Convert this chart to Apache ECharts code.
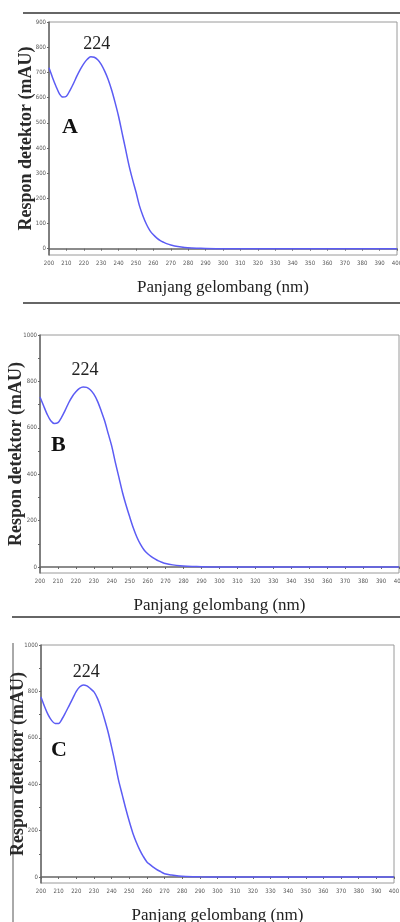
<!DOCTYPE html>
<html>
<head>
<meta charset="utf-8">
<script src="https://cdn.jsdelivr.net/npm/echarts@6/dist/echarts.min.js"></script>
<style>
  html, body { margin: 0; padding: 0; background: #fff; }
  #chart { width: 400px; height: 922px; }
</style>
</head>
<body>
<div id="chart"></div>
<script>
  // panjang gelombang (nm)
  const wavelengths = [200,202,204,206,208,210,212,214,216,218,220,222,224,226,228,230,232,234,236,238,
    240,242,244,246,248,250,252,254,256,258,260,262,264,266,268,270,274,278,282,286,290,300,320,340,360,380,400];
  // respon detektor (mAU) untuk A, B, C
  const respA = [718,680,645,615,602,605,628,655,685,712,735,752,762,760,750,732,705,672,630,580,
    525,460,395,330,275,225,170,130,97,72,55,42,32,25,19,15,9,5,3,2,1,0,0,0,0,0,0];
  const respB = [733,695,658,630,618,622,645,675,708,735,755,770,776,774,764,745,715,675,630,575,
    520,450,385,320,265,215,168,128,97,73,57,45,35,26,20,15,9,5,3,2,1,0,0,0,0,0,0];
  const respC = [776,735,700,675,662,662,682,710,740,770,800,820,828,824,812,798,770,730,680,625,
    560,490,415,355,295,240,190,150,116,88,65,52,40,30,22,14,8,4,2,1,0.5,0,0,0,0,0,0];
  const peakWl = 224;
  const panelNames = ['A', 'B', 'C'];
  const yTicksA = [0,100,200,300,400,500,600,700,800,900];
  const yTicksBC = [0,100,200,300,400,500,600,700,800,900,1000];
  const yLabelsBC = [0,200,400,600,800,1000];
  const xTicks = [200,210,220,230,240,250,260,270,280,290,300,310,320,330,340,350,360,370,380,390,400];

  const chart = echarts.init(document.getElementById('chart'));

  const grids = [
    { left: 49, top: 22, right: 3, bottom: 667 },
    { left: 40, top: 335, right: 1, bottom: 349 },
    { left: 41, top: 645, right: 6, bottom: 39 }
  ];
  const yMax = [900, 1000, 1000];
  const yMin = [-25, -26, -26];
  const yNameGap = [14, 15, 14];
  const labelOffset = [[6, 2], [2, -3], [3, 1]];
  const data = [respA, respB, respC];

  const tickFont = { fontFamily: 'DejaVu Sans Condensed, Liberation Sans Narrow, Liberation Sans, sans-serif', fontSize: 6, color: '#555' };

  const option = {
    animation: false,
    backgroundColor: '#fff',
    grid: grids.map(g => Object.assign({ show: true, borderColor: '#9a9a9a', borderWidth: 1, outerBoundsMode: 'none', containLabel: false }, g)),
    xAxis: grids.map((g, i) => ({
      type: 'value', gridIndex: i, min: 200, max: 400, interval: 10,
      name: 'Panjang gelombang (nm)', nameLocation: 'middle', nameGap: 24, nameMoveOverlap: false,
      nameTextStyle: { fontFamily: 'Liberation Serif', fontSize: 17, color: '#222' },
      axisLine: { lineStyle: { color: '#666', width: 1.5 } },
      axisTick: { show: true, length: 2, lineStyle: { color: '#666' } },
      axisLabel: Object.assign({ margin: 5, customValues: xTicks, formatter: v => String(v) }, tickFont),
      splitLine: { show: false }
    })),
    yAxis: grids.map((g, i) => ({
      type: 'value', gridIndex: i, min: yMin[i], max: yMax[i],
      name: 'Respon detektor (mAU)', nameLocation: 'middle', nameGap: yNameGap[i], nameMoveOverlap: false,
      nameTextStyle: { fontFamily: 'Liberation Serif', fontWeight: 'bold', fontSize: 18, color: '#2a2a2a' },
      axisLine: { show: true, lineStyle: { color: '#666', width: 1.5 } },
      axisTick: { show: true, length: 2, lineStyle: { color: '#666' },
        customValues: i === 0 ? yTicksA : yTicksBC },
      axisLabel: Object.assign({ margin: 3, customValues: i === 0 ? yTicksA : yLabelsBC, formatter: v => String(v) }, tickFont),
      splitLine: { show: false }
    })),
    series: data.map((arr, i) => ({
      type: 'line', xAxisIndex: i, yAxisIndex: i,
      data: wavelengths.map((w, k) => [w, arr[k]]),
      showSymbol: false, smooth: 0.3,
      lineStyle: { color: '#5c5cf4', width: 1.5 },
      markPoint: {
        symbol: 'circle', symbolSize: 0,
        data: [{ coord: [peakWl, arr[wavelengths.indexOf(peakWl)]] }],
        label: {
          show: true, position: 'top', offset: labelOffset[i],
          formatter: String(peakWl),
          fontFamily: 'Liberation Serif', fontSize: 18, color: '#222'
        }
      }
    })),
    graphic: [
      { type: 'line', shape: { x1: 23, y1: 13, x2: 400, y2: 13 }, style: { stroke: '#333', lineWidth: 1.5 } },
      { type: 'line', shape: { x1: 23, y1: 303, x2: 400, y2: 303 }, style: { stroke: '#333', lineWidth: 1.5 } },
      { type: 'line', shape: { x1: 12, y1: 617, x2: 400, y2: 617 }, style: { stroke: '#333', lineWidth: 1.5 } },
      { type: 'line', shape: { x1: 13, y1: 643, x2: 13, y2: 922 }, style: { stroke: '#555', lineWidth: 1 } },
      { type: 'text', left: 62, top: 116, style: { text: panelNames[0], font: 'bold 22px Liberation Serif', fill: '#111' } },
      { type: 'text', left: 51, top: 434, style: { text: panelNames[1], font: 'bold 22px Liberation Serif', fill: '#111' } },
      { type: 'text', left: 51, top: 739, style: { text: panelNames[2], font: 'bold 22px Liberation Serif', fill: '#111' } }
    ]
  };

  chart.setOption(option);
  window.addEventListener('resize', () => {
    chart.resize();
  });
</script>
</body>
</html>
